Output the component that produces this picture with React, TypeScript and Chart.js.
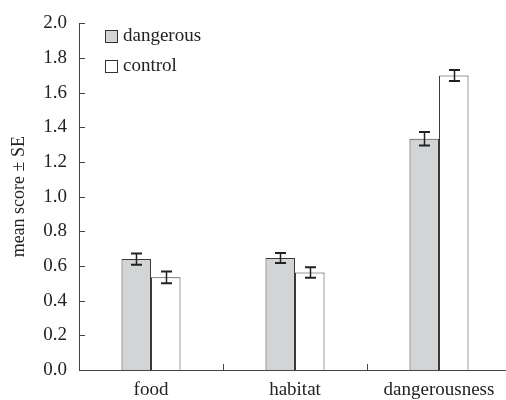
import React, { useEffect, useRef } from "react";
import { Chart, registerables } from "chart.js";

Chart.register(...registerables);

const categories = ["food", "habitat", "dangerousness"];
const seriesNames = ["dangerous", "control"];
const dangerousValues = [0.64, 0.646, 1.335];
const dangerousSE = [0.032, 0.029, 0.039];
const controlValues = [0.535, 0.563, 1.699];
const controlSE = [0.034, 0.03, 0.032];
const yMin = 0;
const yMax = 2.0;
const yStep = 0.2;

const FONT = "'Liberation Serif', 'Times New Roman', serif";
const TEXT = "#222";
const AXIS = "#444";

const errorBarsPlugin = {
  id: "errorBars",
  afterDatasetsDraw(chart: any) {
    const ctx = chart.ctx;
    const ses = [dangerousSE, controlSE];
    const yScale = chart.scales.y;
    ctx.save();
    ctx.strokeStyle = "#222";
    chart.data.datasets.forEach((ds: any, di: number) => {
      const meta = chart.getDatasetMeta(di);
      meta.data.forEach((bar: any, i: number) => {
        const v = ds.data[i];
        const se = ses[di][i];
        const x = Math.round(bar.x) + 0.5;
        const yTop = yScale.getPixelForValue(v + se);
        const yBot = yScale.getPixelForValue(v - se);
        const cap = 5.5;
        ctx.lineWidth = 1.5;
        ctx.beginPath();
        ctx.moveTo(x, yTop);
        ctx.lineTo(x, yBot);
        ctx.stroke();
        ctx.lineWidth = 2;
        ctx.beginPath();
        ctx.moveTo(x - cap, yTop);
        ctx.lineTo(x + cap, yTop);
        ctx.moveTo(x - cap, yBot);
        ctx.lineTo(x + cap, yBot);
        ctx.stroke();
      });
    });
    ctx.restore();
  },
};

const decorPlugin = {
  id: "decor",
  afterDraw(chart: any) {
    const ctx = chart.ctx;
    const area = chart.chartArea;
    const x = chart.scales.x;
    const y = chart.scales.y;
    ctx.save();
    ctx.strokeStyle = AXIS;
    ctx.lineWidth = 1;
    // inward y ticks
    y.ticks.forEach((_t: any, i: number) => {
      const py = Math.round(y.getPixelForTick(i)) + 0.5;
      ctx.beginPath();
      ctx.moveTo(area.left, py);
      ctx.lineTo(area.left + 6, py);
      ctx.stroke();
    });
    // category separators (upward)
    for (let i = 0; i < categories.length - 1; i++) {
      const px = Math.round((x.getPixelForTick(i) + x.getPixelForTick(i + 1)) / 2) + 0.5;
      ctx.beginPath();
      ctx.moveTo(px, area.bottom);
      ctx.lineTo(px, area.bottom - 6);
      ctx.stroke();
    }
    // legend
    const fills = chart.data.datasets.map((d: any) => d.backgroundColor);
    ctx.font = `19px ${FONT}`;
    ctx.textBaseline = "middle";
    ctx.fillStyle = TEXT;
    seriesNames.forEach((name, i) => {
      const by = 30 + i * 30;
      ctx.fillStyle = fills[i];
      ctx.fillRect(105.5, by + 0.5, 12, 12);
      ctx.strokeStyle = "#333";
      ctx.strokeRect(105.5, by + 0.5, 12, 12);
      ctx.fillStyle = TEXT;
      ctx.fillText(name, 123, by + 6.5);
    });
    ctx.restore();
  },
};

export default function App() {
  const ref = useRef<HTMLCanvasElement | null>(null);
  useEffect(() => {
    if (!ref.current) return;
    const chart = new Chart(ref.current, {
      type: "bar",
      data: {
        labels: categories,
        datasets: [
          {
            label: seriesNames[0],
            data: dangerousValues,
            backgroundColor: "#d3d4d6",
            borderColor: "#3a3a3a",
            borderWidth: 1,
            categoryPercentage: 0.41,
            barPercentage: 1,
          },
          {
            label: seriesNames[1],
            data: controlValues,
            backgroundColor: "#ffffff",
            borderColor: "#3a3a3a",
            borderWidth: 1,
            categoryPercentage: 0.41,
            barPercentage: 1,
          },
        ],
      },
      options: {
        responsive: false,
        animation: false,
        devicePixelRatio: 1,
        layout: { padding: { top: 16, right: 9, left: 0, bottom: 0 } },
        plugins: { legend: { display: false }, tooltip: { enabled: false } },
        scales: {
          x: {
            offset: true,
            grid: { display: false, drawTicks: false },
            border: { display: true, color: AXIS, width: 1 },
            ticks: { color: TEXT, font: { family: FONT, size: 19 }, padding: 9, maxRotation: 0 },
            afterFit(scale: any) {
              scale.height = 30;
            },
          },
          y: {
            min: yMin,
            max: yMax,
            grid: { display: false, drawTicks: false },
            border: { display: true, color: AXIS, width: 1 },
            ticks: {
              stepSize: yStep,
              color: TEXT,
              padding: 12,
              font: { family: FONT, size: 19 },
              callback: (v: any) => Number(v).toFixed(1),
            },
            title: {
              display: true,
              text: "mean score ± SE",
              color: TEXT,
              font: { family: FONT, size: 18 },
              padding: { top: 8, bottom: 0 },
            },
            afterFit(scale: any) {
              scale.width = 79;
            },
          },
        },
      },
      plugins: [errorBarsPlugin, decorPlugin],
    });
    return () => chart.destroy();
  }, []);
  return (
    <div style={{ position: "fixed", left: 0, top: 0, width: 506, height: 400, overflow: "hidden", background: "#fff" }}>
      <canvas ref={ref} width={520} height={400} style={{ display: "block", width: 520, height: 400 }} />
    </div>
  );
}
